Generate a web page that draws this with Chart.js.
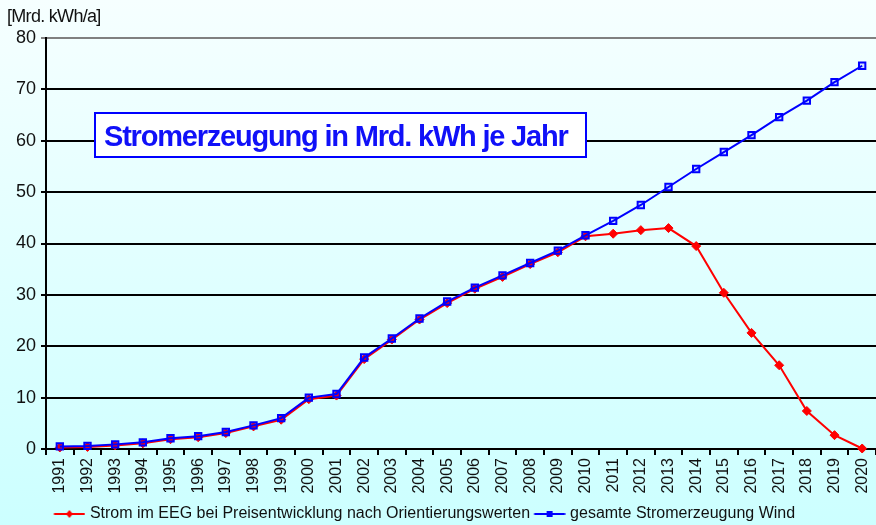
<!DOCTYPE html>
<html>
<head>
<meta charset="utf-8">
<script src="https://cdn.jsdelivr.net/npm/chart.js@4.4.1/dist/chart.umd.min.js"></script>
<style>
html, body { margin: 0; padding: 0; background: #e8ffff; }
</style>
</head>
<body>
<canvas id="chart" width="876" height="525"></canvas>
<script>
const years = ['1991', '1992', '1993', '1994', '1995', '1996', '1997', '1998', '1999', '2000',
  '2001', '2002', '2003', '2004', '2005', '2006', '2007', '2008', '2009', '2010',
  '2011', '2012', '2013', '2014', '2015', '2016', '2017', '2018', '2019', '2020'];
const eegStrom = [0.3, 0.4, 0.7, 1.1, 1.9, 2.3, 3.1, 4.4, 5.7, 9.7,
  10.4, 17.5, 21.3, 25.2, 28.4, 31.2, 33.5, 36.0, 38.3, 41.4,
  41.9, 42.6, 43.0, 39.5, 30.4, 22.6, 16.3, 7.4, 2.7, 0.1];
const windGesamt = [0.5, 0.6, 0.9, 1.3, 2.1, 2.5, 3.3, 4.6, 6.0, 10.0,
  10.7, 17.8, 21.5, 25.4, 28.7, 31.4, 33.8, 36.2, 38.6, 41.6,
  44.4, 47.5, 51.0, 54.5, 57.8, 61.1, 64.6, 67.8, 71.4, 74.6];
const seriesNames = ['Strom im EEG bei Preisentwicklung nach Orientierungswerten', 'gesamte Stromerzeugung Wind'];
const unitLabel = '[Mrd. kWh/a]';
const boxTitle = 'Stromerzeugung in Mrd. kWh je Jahr';

const RED = '#ff0000';
const BLUE = '#0000ff';
const FONT = '"Liberation Sans", Arial, sans-serif';

// small line+marker pictures for the legend (a bit wider than the legend box)
function legendIcon(color, kind) {
  const c = document.createElement('canvas');
  c.width = 34; c.height = 12;
  const g = c.getContext('2d');
  g.strokeStyle = color;
  g.lineWidth = 2;
  g.beginPath(); g.moveTo(2.5, 6); g.lineTo(33.5, 6); g.stroke();
  g.fillStyle = color;
  if (kind === 'diamond') {
    g.beginPath(); g.moveTo(18, 2); g.lineTo(21.5, 6); g.lineTo(18, 10); g.lineTo(14.5, 6); g.closePath(); g.fill();
  } else {
    g.fillRect(15, 3, 6, 6);
  }
  return c;
}
const icons = [legendIcon(RED, 'diamond'), legendIcon(BLUE, 'square')];

const background = {
  id: 'background',
  beforeDraw(chart) {
    const { ctx, width, height } = chart;
    const grad = ctx.createLinearGradient(0, 0, 0, height);
    grad.addColorStop(0, '#f6ffff');
    grad.addColorStop(1, '#ccffff');
    ctx.save();
    ctx.fillStyle = grad;
    ctx.fillRect(0, 0, width, height);
    ctx.restore();
  }
};

// legend sits a little left of centre in the original
const legendShift = {
  id: 'legendShift',
  afterLayout(chart) {
    chart.legend.left -= 13;
    chart.legend.right -= 13;
  }
};

const titleBox = {
  id: 'titleBox',
  beforeDatasetsDraw(chart) {
    const { ctx, chartArea } = chart;
    const x = chartArea.left + 49, y = chartArea.top + 75;
    ctx.save();
    ctx.fillStyle = '#ffffff';
    ctx.fillRect(x, y, 491, 44);
    ctx.strokeStyle = BLUE;
    ctx.lineWidth = 2;
    ctx.strokeRect(x, y, 491, 44);
    ctx.fillStyle = '#1010f8';
    ctx.font = 'bold 29px ' + FONT;
    ctx.letterSpacing = '-1.2px';
    ctx.textBaseline = 'alphabetic';
    ctx.fillText(boxTitle, x + 9, y + 33);
    ctx.font = '18px ' + FONT;
    ctx.letterSpacing = '-0.7px';
    ctx.fillStyle = '#111';
    ctx.fillText(unitLabel, 7, 22);
    ctx.restore();
  }
};

new Chart(document.getElementById('chart'), {
  type: 'line',
  data: {
    labels: years,
    datasets: [{
      label: seriesNames[0],
      data: eegStrom,
      borderColor: RED,
      backgroundColor: RED,
      borderWidth: 2,
      pointStyle: 'rectRot',
      pointRadius: 4.5,
      pointBorderWidth: 1,
      clip: false,
      order: 2
    }, {
      label: seriesNames[1],
      data: windGesamt,
      borderColor: BLUE,
      backgroundColor: 'rgba(0,0,255,0.12)',
      borderWidth: 2,
      pointStyle: 'rect',
      pointRadius: 4.5,
      pointBorderWidth: 2,
      clip: false,
      order: 1
    }]
  },
  options: {
    responsive: false,
    animation: false,
    layout: { autoPadding: false, padding: { top: 38, right: 0, left: 0, bottom: -7 } },
    scales: {
      x: {
        offset: true,
        border: { color: '#000', width: 2 },
        grid: { offset: true, drawOnChartArea: false, color: '#000', lineWidth: 2, tickLength: 6 },
        ticks: { color: '#111', minRotation: 90, maxRotation: 90, autoSkip: false, padding: 3, font: { family: FONT, size: 16 } },
        afterFit(scale) { scale.height = 52; scale.paddingRight = 0; scale.paddingLeft = 0; }
      },
      y: {
        min: 0,
        max: 80,
        border: { color: '#000', width: 2 },
        grid: {
          color: c => c.tick && c.tick.value === 80 ? '#808080' : '#000',
          lineWidth: 2,
          tickLength: 5
        },
        ticks: { stepSize: 10, color: '#111', padding: 5, font: { family: FONT, size: 18 } },
        afterFit(scale) { scale.width = 46; }
      }
    },
    plugins: {
      tooltip: { enabled: false },
      legend: {
        position: 'bottom',
        labels: {
          usePointStyle: true,
          pointStyleWidth: 27,
          color: '#111',
          padding: 5,
          font: { family: FONT, size: 16 },
          sort: (a, b) => a.datasetIndex - b.datasetIndex,
          generateLabels(chart) {
            const items = Chart.defaults.plugins.legend.labels.generateLabels(chart);
            items.forEach(it => { it.pointStyle = icons[it.datasetIndex]; });
            return items;
          }
        }
      }
    }
  },
  plugins: [background, legendShift, titleBox]
});
</script>
</body>
</html>
